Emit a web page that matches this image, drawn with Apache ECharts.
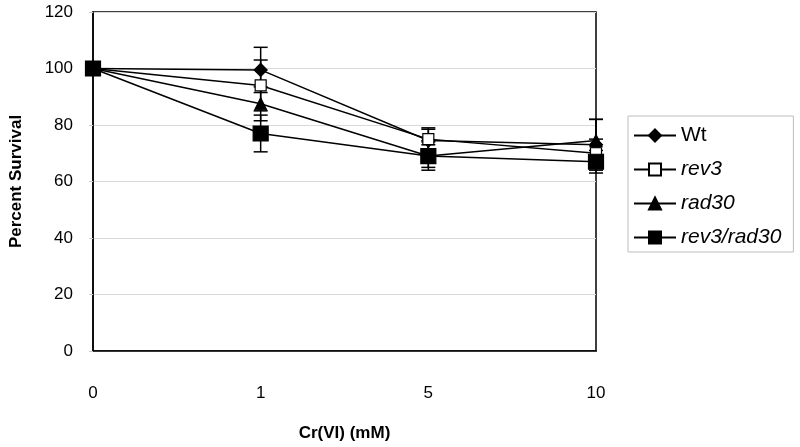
<!DOCTYPE html>
<html><head><meta charset="utf-8">
<script src="https://cdn.jsdelivr.net/npm/echarts@6/dist/echarts.min.js"></script>
<style>html,body{margin:0;padding:0;background:#fff}#c{width:800px;height:447px}</style>
</head><body><div id="c"></div>
<script>
var categories = ['0', '1', '5', '10'];
var seriesNames = ['Wt', 'rev3', 'rad30', 'rev3/rad30'];
var wt = [100, 99.5, 74.5, 73];
var rev3 = [100, 94, 75, 70];
var rad30 = [100, 87.5, 69, 74.5];
var rev3rad30 = [100, 77, 69, 67];
var wtErr = [0, 8, 4, 9];
var rev3Err = [0, 9, 4, 5];
var rad30Err = [0, 6, 4, 7.5];
var rev3rad30Err = [0, 6.5, 5, 4];
var yTicks = [0, 20, 40, 60, 80, 100, 120];

var FONT = 'Liberation Sans, Arial, sans-serif';
var chart = echarts.init(document.getElementById('c'));

function errData(vals, errs) {
  return vals.map(function (v, i) { return [i, v - errs[i], v + errs[i]]; });
}
function errSeries(vals, errs) {
  return {
    type: 'custom',
    silent: true,
    z: 1,
    renderItem: function (params, api) {
      var x = api.value(0);
      var lo = api.coord([x, api.value(1)]);
      var hi = api.coord([x, api.value(2)]);
      if (Math.abs(lo[1] - hi[1]) < 0.5) return null;
      var w = 7;
      var st = { stroke: '#000', lineWidth: 1.5 };
      return {
        type: 'group',
        children: [
          { type: 'line', shape: { x1: lo[0], y1: lo[1], x2: hi[0], y2: hi[1] }, style: st },
          { type: 'line', shape: { x1: lo[0] - w, y1: lo[1], x2: lo[0] + w, y2: lo[1] }, style: st },
          { type: 'line', shape: { x1: hi[0] - w, y1: hi[1], x2: hi[0] + w, y2: hi[1] }, style: st }
        ]
      };
    },
    data: errData(vals, errs)
  };
}
function lineSeries(name, data, symbol, size, fill, z) {
  return {
    name: name, type: 'line', data: data, symbol: symbol, symbolSize: size,
    showAllSymbol: true, z: z,
    lineStyle: { color: '#000', width: 1.5 },
    itemStyle: { color: fill, borderColor: '#000', borderWidth: 1.2 },
    emphasis: { disabled: true }
  };
}

chart.setOption({
  animation: false,
  backgroundColor: '#fff',
  grid: { left: 93, top: 12, right: 204, bottom: 89, show: true, borderColor: '#000', borderWidth: 1.5 },
  xAxis: {
    type: 'category', data: categories, boundaryGap: false,
    name: 'Cr(VI) (mM)', nameLocation: 'middle', nameGap: 74,
    nameTextStyle: { fontFamily: FONT, fontSize: 17, fontWeight: 'bold', color: '#000' },
    axisLine: { lineStyle: { color: '#000', width: 1.5 } },
    axisTick: { show: false },
    axisLabel: { margin: 34, fontFamily: FONT, fontSize: 17, color: '#000' },
    splitLine: { show: false }
  },
  yAxis: {
    type: 'value', min: yTicks[0], max: yTicks[yTicks.length - 1], interval: 20,
    name: 'Percent Survival', nameLocation: 'middle', nameGap: 68, nameRotate: 90,
    nameTextStyle: { fontFamily: FONT, fontSize: 17, fontWeight: 'bold', color: '#000' },
    axisLine: { show: true, lineStyle: { color: '#000', width: 1.5 } },
    axisTick: { show: true, length: 4, lineStyle: { color: '#ccc' } },
    axisLabel: { margin: 20, fontFamily: FONT, fontSize: 17, color: '#000' },
    splitLine: { show: true, lineStyle: { color: '#d9d9d9', width: 1 } }
  },
  legend: {
    orient: 'vertical', left: 628, top: 116,
    itemWidth: 42, itemHeight: 15, itemGap: 13,
    padding: [9, 12, 4, 5],
    borderColor: '#bdbdbd', borderWidth: 1,
    textStyle: { fontFamily: FONT, fontSize: 21, color: '#000' },
    data: [
      { name: 'Wt' },
      { name: 'rev3', textStyle: { fontStyle: 'italic' } },
      { name: 'rad30', textStyle: { fontStyle: 'italic' } },
      { name: 'rev3/rad30', textStyle: { fontStyle: 'italic' } }
    ]
  },
  series: [
    errSeries(wt, wtErr),
    errSeries(rev3, rev3Err),
    errSeries(rad30, rad30Err),
    errSeries(rev3rad30, rev3rad30Err),
    lineSeries(seriesNames[0], wt, 'diamond', 13, '#000', 3),
    lineSeries(seriesNames[1], rev3, 'rect', 11, '#fff', 4),
    lineSeries(seriesNames[2], rad30, 'triangle', 12, '#000', 5),
    lineSeries(seriesNames[3], rev3rad30, 'rect', 15, '#000', 6)
  ]
});
</script></body></html>
